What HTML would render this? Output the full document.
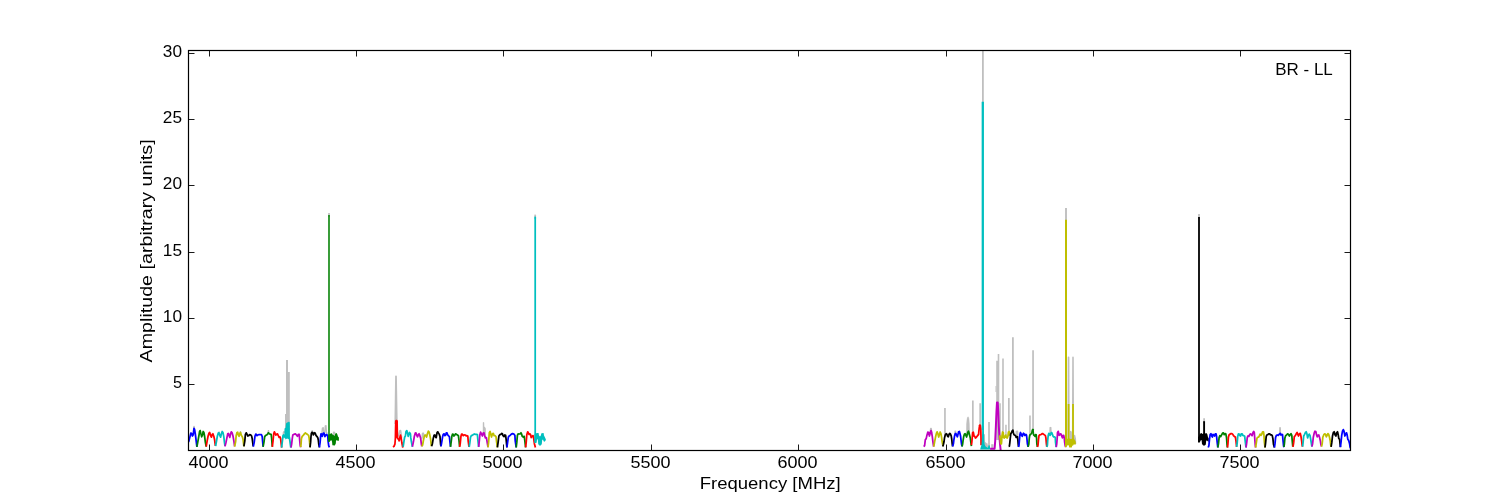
<!DOCTYPE html>
<html><head><meta charset="utf-8"><title>BR - LL</title>
<style>
html,body{margin:0;padding:0;background:#fff;}
body{width:1500px;height:500px;overflow:hidden;}
svg{display:block;}
text{font-family:"Liberation Sans",sans-serif;fill:#000;}
</style></head><body>
<svg width="1500" height="500" viewBox="0 0 1500 500">
<rect x="0" y="0" width="1500" height="500" fill="#ffffff"/>
<defs><clipPath id="ax"><rect x="188" y="50" width="1163" height="401"/></clipPath></defs>
<g clip-path="url(#ax)" fill="none" stroke-linejoin="round" stroke-linecap="butt">
<polygon fill="#bfbfbf" stroke="none" points="285.0,430.0 285.0,414.0 286.0,414.0 286.0,360.0 288.0,360.0 288.0,372.0 289.8,372.0 289.8,430.0"/>
<polygon fill="#bfbfbf" stroke="none" points="482.8,434.0 482.8,422.6 483.3,422.1 484.2,422.4 484.3,426.6 485.3,427.6 485.8,428.4 485.9,437.0 484.5,436.0"/>
<polygon fill="#bfbfbf" stroke="none" points="944.1,437.0 944.1,408.0 945.8,408.0 945.8,437.0"/>
<polygon fill="#bfbfbf" stroke="none" points="966.2,434.0 966.3,424.0 967.0,417.5 967.7,416.6 968.0,419.0 968.4,416.4 969.0,417.0 969.6,424.0 969.9,436.0"/>
<polygon fill="#bfbfbf" stroke="none" points="972.0,433.0 972.0,400.4 973.7,400.4 973.7,433.0"/>
<polygon fill="#bfbfbf" stroke="none" points="979.3,428.0 979.3,403.2 981.0,403.2 981.0,428.0"/>
<polygon fill="#bfbfbf" stroke="none" points="982.0,104.0 982.0,45.0 983.8,45.0 983.8,104.0"/>
<polygon fill="#bfbfbf" stroke="none" points="984.0,434.2 985.0,434.2 985.1,442.3 985.9,442.3 986.4,443.3 987.4,443.3 987.8,445.2 988.1,447.1 984.0,447.1"/>
<polygon fill="#bfbfbf" stroke="none" points="988.1,446.0 988.1,422.0 989.9,422.0 989.9,446.0"/>
<polygon fill="#bfbfbf" stroke="none" points="991.2,448.0 991.2,444.2 993.4,444.2 993.4,448.0"/>
<polygon fill="#bfbfbf" stroke="none" points="996.2,440.0 996.2,360.8 997.7,360.8 997.7,354.0 999.3,354.0 999.3,440.0"/>
<polygon fill="#bfbfbf" stroke="none" points="999.3,437.0 999.3,403.2 1000.8,403.2 1000.8,437.0"/>
<polygon fill="#bfbfbf" stroke="none" points="1002.2,436.0 1002.2,358.6 1003.8,358.6 1003.8,436.0"/>
<polygon fill="#bfbfbf" stroke="none" points="1005.2,438.0 1005.2,424.8 1006.7,424.8 1006.7,438.0"/>
<polygon fill="#bfbfbf" stroke="none" points="1008.0,436.0 1008.0,398.0 1009.7,398.0 1009.7,436.0"/>
<polygon fill="#bfbfbf" stroke="none" points="1012.0,432.0 1012.0,337.2 1013.8,337.2 1013.8,432.0"/>
<polygon fill="#bfbfbf" stroke="none" points="1029.2,436.0 1029.2,415.6 1030.8,415.6 1030.8,436.0"/>
<polygon fill="#bfbfbf" stroke="none" points="1032.2,431.0 1032.2,350.2 1033.9,350.2 1033.9,431.0"/>
<polyline stroke="#bfbfbf" stroke-width="1.3" points="193.5,429.6 193.9,426.5 194.2,426.5 194.6,429.6"/>
<polyline stroke="#bfbfbf" stroke-width="1.2" points="218.5,434.0 218.9,431.8 219.2,431.8 219.5,434.0"/>
<polyline stroke="#bfbfbf" stroke-width="1.2" points="240.0,433.3 240.3,431.5 240.6,431.5 240.9,433.3"/>
<polyline stroke="#bfbfbf" stroke-width="1.2" points="267.9,433.1 268.3,430.5 268.6,430.5 268.9,433.1"/>
<polyline stroke="#bfbfbf" stroke-width="1.0" points="255.6,434.6 256.0,433.3 256.3,433.3 256.6,434.6"/>
<polyline stroke="#bfbfbf" stroke-width="1.5" points="283.3,435.0 283.5,432.5 284.2,431.5 284.8,433.0"/>
<polyline stroke="#bfbfbf" stroke-width="1.5" points="311.1,434.7 311.8,431.2 312.4,430.9 313.0,434.1"/>
<polyline stroke="#bfbfbf" stroke-width="1.3" points="321.8,434.1 322.4,428.0 323.3,427.7 323.7,432.8 324.8,432.8 325.3,425.8 326.0,425.6 326.5,432.8 327.6,433.1"/>
<polyline stroke="#bfbfbf" stroke-width="1.7" points="329.0,217.0 329.0,213.0"/>
<polyline stroke="#bfbfbf" stroke-width="1.5" points="332.9,435.4 333.7,432.2 334.5,432.5 335.1,435.4"/>
<polyline stroke="#bfbfbf" stroke-width="1.6" points="395.2,424.0 395.9,376.2 396.1,376.2 396.9,424.0"/>
<polyline stroke="#bfbfbf" stroke-width="1.6" points="398.6,436.6 399.3,433.1 399.9,430.8 400.6,430.6 401.2,434.7 401.6,437.9"/>
<polyline stroke="#bfbfbf" stroke-width="1.6" points="422.0,438.6 422.5,433.8 423.0,433.1 423.4,433.6 423.8,436.6"/>
<polyline stroke="#bfbfbf" stroke-width="1.75" points="535.2,219.0 535.2,214.6"/>
<polyline stroke="#bfbfbf" stroke-width="1.5" points="930.2,432.8 930.7,428.6 931.2,428.6 931.7,432.8"/>
<polyline stroke="#bfbfbf" stroke-width="1.4" points="954.8,434.2 955.1,431.3 955.5,431.2 955.9,434.2"/>
<polyline stroke="#bfbfbf" stroke-width="0.8" points="995.9,392.0 995.9,386.0"/>
<polyline stroke="#bfbfbf" stroke-width="1.4" points="1016.1,435.6 1016.3,431.4 1017.5,431.2 1017.8,435.6"/>
<polyline stroke="#bfbfbf" stroke-width="1.3" points="1050.0,433.2 1050.1,427.7 1050.8,427.5 1051.1,433.2"/>
<polyline stroke="#bfbfbf" stroke-width="1.9" points="1066.0,222.0 1066.0,208.0"/>
<polyline stroke="#bfbfbf" stroke-width="1.6" points="1068.2,440.0 1068.5,357.4 1068.6,357.4 1068.9,440.0"/>
<polyline stroke="#bfbfbf" stroke-width="1.6" points="1072.7,440.0 1073.0,357.4 1073.0,357.4 1073.3,440.0"/>
<polyline stroke="#bfbfbf" stroke-width="1.3" points="1070.2,440.0 1070.6,431.5 1071.2,432.0 1071.5,440.0"/>
<polyline stroke="#bfbfbf" stroke-width="1.3" points="1074.2,440.0 1074.6,435.5 1075.4,439.0 1075.6,444.0"/>
<polyline stroke="#bfbfbf" stroke-width="1.7" points="1199.0,219.0 1199.0,214.0"/>
<polyline stroke="#bfbfbf" stroke-width="1.7" points="1204.1,423.0 1204.1,418.3"/>
<polyline stroke="#bfbfbf" stroke-width="1.6" points="1279.8,434.0 1280.0,427.7 1280.1,427.7 1280.4,434.0"/>
<polyline stroke="#0000ff" stroke-width="1.75" points="188.6,442.1 190.0,436.6 190.8,433.1 191.6,433.6 192.4,436.0 193.2,434.8 194.0,428.3 194.6,429.6 195.3,433.8 196.9,446.9"/>
<polyline stroke="#008000" stroke-width="1.75" points="196.9,446.9 197.8,441.8 198.8,436.3 199.6,431.5 200.2,430.6 200.8,433.4 201.7,436.8 202.5,434.7 203.2,431.5 203.9,432.5 204.7,437.0 205.3,441.8 206.2,446.6"/>
<polyline stroke="#ff0000" stroke-width="1.75" points="206.2,446.6 207.1,441.1 208.1,436.0 209.0,433.1 209.7,432.5 210.6,435.7 211.4,437.2 212.2,434.4 212.9,433.8 213.8,436.3 214.5,439.2 215.4,445.9"/>
<polyline stroke="#00bfbf" stroke-width="1.75" points="215.6,446.2 216.6,440.5 217.4,436.0 218.3,433.1 219.0,432.8 219.9,435.7 220.6,437.2 221.4,433.8 222.2,431.5 223.0,432.8 223.8,436.6 224.4,441.8 225.0,446.2"/>
<polyline stroke="#bf00bf" stroke-width="1.75" points="225.0,446.4 226.0,442.4 227.0,437.3 227.7,433.8 228.4,433.4 229.2,436.0 229.8,437.4 230.6,433.8 231.3,431.8 232.1,432.8 233.0,436.0 233.9,441.1 234.6,446.4"/>
<polyline stroke="#bfbf00" stroke-width="1.75" points="234.6,446.6 235.6,441.8 236.2,435.4 237.0,432.5 237.7,432.2 238.5,435.4 239.1,436.3 239.9,433.4 240.5,432.5 241.4,435.4 242.3,436.8 243.0,439.2 243.9,446.4"/>
<polyline stroke="#000000" stroke-width="1.75" points="243.9,446.4 244.8,441.1 245.4,434.4 246.3,432.8 247.1,434.4 247.8,436.0 248.7,435.7 249.7,434.6 250.6,434.8 251.6,436.0 252.2,438.6 253.2,446.4"/>
<polyline stroke="#0000ff" stroke-width="1.75" points="253.3,446.6 254.2,442.4 255.0,436.0 255.8,434.2 256.4,434.7 257.0,435.7 258.0,434.8 259.0,434.7 261.5,434.7 262.2,436.6 263.1,446.6"/>
<polyline stroke="#008000" stroke-width="1.75" points="263.1,446.8 264.0,441.8 264.7,436.6 265.7,435.4 266.6,435.0 267.6,434.1 268.4,432.8 269.2,433.8 270.2,434.2 271.1,434.4 271.6,437.9 272.3,446.8"/>
<polyline stroke="#ff0000" stroke-width="1.75" points="272.3,446.9 273.0,441.1 273.7,433.8 274.4,431.8 275.3,433.8 275.9,435.0 276.8,434.1 277.5,433.8 278.5,436.0 279.1,437.3 280.0,436.8 280.6,438.6 281.4,445.6 281.7,447.5"/>
<polyline stroke="#00bfbf" stroke-width="1.75" points="281.6,447.6 282.4,441.0 283.0,435.6 283.7,435.0 284.2,436.5"/>
<polygon fill="#00bfbf" stroke="none" points="283.2,437.5 283.6,435.0 284.4,434.5 284.5,428.6 285.6,427.8 286.0,423.4 287.0,422.6 288.0,422.2 289.0,421.4 289.8,422.4 290.0,439.2 288.4,439.0 287.0,438.6 285.6,439.6 284.8,437.6 284.0,438.6"/>
<polyline stroke="#00bfbf" stroke-width="1.75" points="289.3,437.0 289.9,441.0 290.8,447.6"/>
<polyline stroke="#bf00bf" stroke-width="1.75" points="291.0,447.5 291.6,444.3 292.2,439.2 292.8,435.0 293.8,434.4 295.4,433.8 296.4,435.0 297.4,436.3 298.3,434.4 299.3,434.4 299.6,439.2 300.2,445.6 300.7,447.2"/>
<polyline stroke="#bfbf00" stroke-width="1.75" points="300.7,447.2 301.1,443.7 301.4,438.6 302.2,436.4 303.2,435.4 304.4,433.9 305.4,432.9 306.4,433.8 307.6,434.6 308.6,435.4 309.1,437.8 309.5,441.1 310.0,447.2"/>
<polyline stroke="#000000" stroke-width="1.75" points="310.0,447.4 310.6,442.4 311.0,436.5 311.4,433.5 312.0,432.3 312.8,432.8 313.4,434.9 314.0,433.4 314.8,432.8 315.4,433.8 316.0,435.4 317.0,436.6 317.8,437.8 318.3,440.0 318.8,444.3 319.4,447.4"/>
<polyline stroke="#0000ff" stroke-width="1.75" points="319.4,447.4 320.1,442.4 320.6,436.6 321.0,433.8 322.0,434.4 322.3,436.3 323.3,433.1 324.2,433.4 324.9,436.6 325.8,435.0 326.8,434.4 327.8,436.6 328.1,441.1 328.7,445.6 329.4,447.4"/>
<polyline stroke="#008000" stroke-width="1.55" points="329.0,442.0 329.0,215.0"/>
<polygon fill="#008000" stroke="none" points="328.2,434.8 330.0,434.0 331.4,433.0 332.4,434.6 333.6,435.0 334.4,436.0 335.4,433.6 336.6,433.0 337.4,434.4 338.0,436.6 338.9,437.4 338.9,440.8 337.4,440.8 337.0,440.0 336.0,440.8 335.8,443.6 334.8,445.6 332.4,445.2 332.0,441.6 331.2,440.0 330.0,441.2 328.2,441.6"/>
<polyline stroke="#ff0000" stroke-width="1.75" points="393.0,447.0 394.0,446.3 394.9,444.2 395.4,438.0 395.6,428.0 395.8,421.4 396.1,420.6 396.8,420.6 397.1,421.4 397.2,428.0 397.4,436.0 397.7,438.6 398.5,439.2 399.2,440.8 399.9,437.2 400.5,435.2 401.1,437.6 401.8,442.5 402.8,447.6"/>
<polygon fill="#ff0000" stroke="none" points="395.3,438.0 395.5,428.0 395.7,421.0 396.1,420.3 396.9,420.3 397.2,421.2 397.4,437.0 396.5,438.2"/>
<polyline stroke="#00bfbf" stroke-width="1.75" points="403.1,446.9 403.8,442.4 404.6,437.3 405.4,436.0 406.0,431.5 406.8,430.6 407.4,432.8 408.2,436.3 408.9,434.1 409.5,432.5 410.4,433.8 410.8,437.9 411.4,441.8 412.4,446.9"/>
<polyline stroke="#bf00bf" stroke-width="1.75" points="412.4,446.6 413.4,441.8 414.3,436.6 415.3,433.1 415.9,432.8 416.8,435.4 417.5,436.8 418.5,434.4 419.1,433.8 419.8,435.4 420.7,438.6 421.4,444.3 421.8,446.4"/>
<polyline stroke="#bfbf00" stroke-width="1.75" points="421.8,446.4 422.6,445.0 423.4,440.5 424.2,436.6 425.1,435.0 425.8,435.4 426.6,437.0 427.4,433.8 428.3,431.2 429.0,431.8 429.8,435.0 430.6,439.2 431.3,445.6 431.6,446.2"/>
<polyline stroke="#000000" stroke-width="1.75" points="431.6,446.2 432.4,443.7 433.2,438.6 434.0,435.4 434.8,435.0 435.6,437.3 436.2,437.6 437.0,432.8 437.7,431.8 438.5,433.1 439.3,434.4 440.0,436.6 440.6,444.3 441.0,446.2"/>
<polyline stroke="#0000ff" stroke-width="1.75" points="441.0,446.4 441.7,442.4 442.5,437.3 443.2,434.4 444.1,433.8 444.9,435.7 445.7,435.0 446.3,432.8 447.0,432.8 447.6,434.7 448.6,435.9 449.4,436.6 450.0,442.4 450.5,446.6"/>
<polyline stroke="#008000" stroke-width="1.75" points="450.5,446.8 451.1,442.4 451.8,436.6 452.4,434.4 453.0,434.1 454.0,436.0 454.6,435.4 455.6,433.8 456.6,434.4 457.5,435.0 458.4,435.7 459.0,440.5 459.6,446.6"/>
<polyline stroke="#ff0000" stroke-width="1.75" points="459.6,446.8 460.3,443.0 460.9,436.6 461.6,434.1 462.3,434.2 463.3,435.7 464.2,434.8 465.2,435.0 466.2,435.9 467.1,435.7 467.8,436.0 468.2,441.1 469.0,446.8"/>
<polyline stroke="#00bfbf" stroke-width="1.75" points="469.2,447.0 469.9,442.4 470.5,437.3 471.3,435.7 472.2,435.4 473.2,434.6 474.5,434.0 475.4,434.4 476.4,434.4 477.4,434.7 477.8,439.2 478.6,446.9"/>
<polyline stroke="#bf00bf" stroke-width="1.75" points="478.7,446.9 479.2,441.8 479.9,434.7 480.6,432.2 481.4,433.8 482.4,436.0 483.2,433.1 484.0,432.8 484.6,435.4 485.4,437.9 486.4,437.6 487.0,441.1 488.0,447.2"/>
<polyline stroke="#bfbf00" stroke-width="1.75" points="488.0,447.4 488.6,442.4 489.3,432.8 490.1,431.5 490.9,434.7 491.5,437.0 492.5,433.8 493.3,433.4 494.1,435.7 495.0,435.7 496.0,436.6 496.6,441.8 497.4,447.4"/>
<polyline stroke="#000000" stroke-width="1.75" points="497.4,447.4 498.1,442.4 498.9,436.0 499.8,434.7 500.8,434.4 501.8,433.4 502.4,433.8 503.0,435.7 504.0,436.6 504.8,435.0 505.6,435.4 506.1,439.2 506.9,447.4"/>
<polyline stroke="#0000ff" stroke-width="1.75" points="506.9,447.4 507.6,442.4 508.3,437.3 509.1,436.0 510.1,435.4 511.4,434.1 512.6,433.6 513.9,434.0 514.9,435.4 515.2,440.5 516.2,447.4"/>
<polyline stroke="#008000" stroke-width="1.75" points="516.2,447.5 516.8,442.4 517.4,435.4 518.1,433.8 519.0,434.0 520.0,433.8 521.0,432.8 521.6,434.1 522.2,436.3 523.2,437.0 524.2,436.3 524.8,440.5 525.6,447.4"/>
<polyline stroke="#ff0000" stroke-width="1.75" points="525.6,447.4 526.2,442.4 526.8,434.7 527.7,431.8 528.3,432.8 529.0,434.4 529.9,433.8 530.6,434.7 531.2,437.6 532.2,436.0 533.1,435.7 533.8,439.2 534.4,443.7 535.4,447.5"/>
<polyline stroke="#00bfbf" stroke-width="1.75" points="535.2,443.0 535.2,216.6"/>
<polygon fill="#00bfbf" stroke="none" points="534.6,434.0 536.2,433.2 537.2,433.0 538.6,433.0 539.0,435.6 540.0,436.6 540.8,435.6 541.4,433.2 543.6,433.0 544.0,435.6 545.0,437.6 545.8,439.2 545.9,439.6 545.6,440.6 544.6,441.8 543.6,441.2 543.0,439.6 542.2,440.0 541.8,444.0 540.8,445.6 539.2,445.4 538.2,444.0 537.8,439.2 537.0,439.6 536.6,442.8 534.6,442.8"/>
<polyline stroke="#bf00bf" stroke-width="1.75" points="923.7,446.6 924.6,445.6 925.3,439.8 926.2,438.6 926.9,435.4 927.8,432.2 928.8,432.5 929.4,436.0 930.4,432.5 931.0,430.6 931.7,432.8 932.3,436.6 933.0,442.4 933.6,446.6"/>
<polyline stroke="#bfbf00" stroke-width="1.75" points="933.8,446.6 934.6,441.8 935.5,437.3 936.4,433.4 937.1,431.8 937.9,433.8 938.7,437.0 939.4,434.7 940.2,432.0 941.0,433.8 941.6,437.3 942.2,441.8 943.0,446.2"/>
<polyline stroke="#000000" stroke-width="1.75" points="942.8,446.5 943.4,444.5 944.0,441.8 944.5,438.0 945.2,435.1 946.2,433.7 946.9,434.2 947.6,436.3 948.3,436.8 949.0,434.4 949.8,433.4 950.5,434.2 951.2,435.8 951.7,439.0 952.2,443.8 952.6,446.4"/>
<polyline stroke="#0000ff" stroke-width="1.75" points="952.6,446.5 953.4,443.8 953.8,440.4 954.5,436.3 955.1,433.9 955.8,433.4 956.5,435.1 957.4,436.8 958.0,434.4 958.6,431.8 959.4,431.5 959.9,433.2 960.6,436.3 961.0,439.9 961.5,443.8 962.0,446.4"/>
<polyline stroke="#008000" stroke-width="1.75" points="962.0,446.5 962.6,444.2 963.1,440.4 963.7,436.6 964.4,434.2 965.1,433.7 965.8,435.1 966.6,437.0 967.1,435.1 967.8,432.2 968.5,431.3 969.0,432.7 969.7,435.6 970.3,438.0 970.8,441.8 971.4,446.2"/>
<polyline stroke="#ff0000" stroke-width="1.75" points="971.4,445.2 971.8,442.3 972.2,438.0 972.6,432.7 973.3,432.2 973.7,434.2 974.0,436.1 974.7,436.3 975.4,438.0 976.2,437.5 977.1,436.3 977.8,435.4 978.6,434.4 978.9,430.8 979.3,427.4 979.6,426.0"/>
<polyline stroke="#ff0000" stroke-width="1.75" points="979.2,426.0 979.5,425.4 980.0,425.1 980.4,425.6 980.8,428.9 981.0,438.0 981.1,445.2"/>
<polygon fill="#00bfbf" stroke="none" points="980.2,449.5 980.5,448.1 981.4,445.2 981.8,440.4 982.1,433.2 982.2,426.0 983.9,426.0 984.0,433.2 984.2,440.4 984.6,444.2 985.4,446.2 986.4,447.1 987.8,447.6 988.6,445.3 989.5,445.2 990.0,446.6 990.2,449.5"/>
<polyline stroke="#00bfbf" stroke-width="2.3" points="982.8,430.0 982.8,101.7"/>
<polyline stroke="#bf00bf" stroke-width="2.0" points="990.1,448.7 994.6,448.7 995.2,441.0 995.9,426.0 996.5,411.0 997.0,402.4 997.7,402.4 998.3,412.0 998.8,426.0 999.4,436.0 1000.0,444.0 1000.7,450.5"/>
<polyline stroke="#bfbf00" stroke-width="1.75" points="999.3,435.6 999.8,435.8 1000.1,438.5 1000.5,440.4 1000.7,443.8 1001.4,443.8 1001.7,440.4 1002.0,435.6 1002.6,432.0 1003.3,432.7 1003.5,437.5 1004.3,438.0 1005.0,436.3 1005.8,435.1 1006.2,437.3 1007.2,438.0 1007.9,436.3 1008.4,432.2 1009.1,431.5 1009.6,432.7 1009.8,435.6"/>
<polyline stroke="#000000" stroke-width="1.75" points="1008.6,446.4 1009.4,446.2 1009.8,442.8 1010.3,438.0 1010.8,433.7 1011.5,432.7 1012.2,430.8 1012.9,430.1 1013.4,432.7 1013.9,434.6 1014.9,435.4 1015.6,435.6 1016.1,437.3 1016.8,437.5 1017.5,436.6 1017.9,440.4 1018.2,444.2 1018.5,446.6"/>
<polyline stroke="#0000ff" stroke-width="1.75" points="1018.5,446.9 1019.0,445.2 1019.4,440.4 1019.9,434.6 1020.5,432.5 1021.1,433.9 1021.7,435.6 1022.3,436.3 1022.9,434.2 1023.5,433.2 1024.1,433.9 1024.7,435.4 1025.3,435.1 1025.9,434.4 1026.5,435.1 1026.9,438.5 1027.4,443.8 1028.1,446.9"/>
<polyline stroke="#008000" stroke-width="1.75" points="1028.1,446.9 1028.8,444.2 1029.3,438.0 1029.8,435.1 1030.5,434.4 1031.2,433.9 1031.8,433.2 1032.3,430.3 1032.9,429.4 1033.5,430.3"/>
<polyline stroke="#008000" stroke-width="1.75" points="1032.9,429.6 1033.3,433.2 1033.7,435.1 1034.4,435.6 1035.1,436.3 1035.6,434.6 1036.2,434.9 1036.6,438.5 1036.9,444.2 1037.4,446.9"/>
<polyline stroke="#ff0000" stroke-width="1.75" points="1037.4,447.0 1038.0,445.2 1038.5,439.4 1039.0,435.6 1039.7,434.9 1040.9,434.6 1041.8,433.9 1042.6,433.6 1043.5,434.2 1044.5,434.9 1045.4,435.6 1045.9,438.0 1046.3,442.8 1046.8,447.0"/>
<polyline stroke="#00bfbf" stroke-width="1.75" points="1046.8,447.1 1047.4,445.2 1047.7,440.4 1048.2,435.6 1048.8,433.4 1049.5,433.7 1050.1,435.4 1050.7,434.2 1051.2,432.7 1051.8,432.7 1052.4,434.4 1053.1,436.3 1053.8,437.0 1054.6,436.8 1055.3,437.5 1055.5,441.8 1055.9,445.2 1056.2,447.1"/>
<polyline stroke="#bf00bf" stroke-width="1.75" points="1056.2,447.1 1056.7,444.2 1057.2,438.0 1057.5,432.7 1058.2,431.3 1058.6,432.7 1059.1,435.4 1059.8,434.9 1060.6,433.9 1061.2,434.2 1061.8,436.3 1062.5,437.8 1063.1,435.6 1063.7,435.4 1064.3,438.0 1064.6,441.8 1065.1,445.2 1065.6,447.1"/>
<polyline stroke="#bfbf00" stroke-width="2.0" points="1066.0,444.0 1066.0,219.8"/>
<polyline stroke="#bfbf00" stroke-width="1.8" points="1068.6,444.0 1068.6,404.0"/>
<polyline stroke="#bfbf00" stroke-width="1.8" points="1073.0,444.0 1073.0,404.0"/>
<polygon fill="#bfbf00" stroke="none" points="1065.0,439.2 1067.4,438.8 1069.8,438.6 1070.2,439.0 1071.4,439.0 1072.0,438.6 1074.0,438.6 1074.6,439.8 1075.4,440.8 1075.8,442.0 1075.8,444.4 1073.6,444.4 1073.2,445.4 1072.2,445.8 1071.8,447.6 1069.2,447.6 1068.8,445.2 1067.0,445.4 1066.6,447.2 1065.0,447.2"/>
<polyline stroke="#000000" stroke-width="1.8" points="1199.0,442.0 1199.0,217.0"/>
<polyline stroke="#000000" stroke-width="1.9" points="1204.1,442.0 1204.1,421.2"/>
<polygon fill="#000000" stroke="none" points="1198.0,437.2 1199.0,436.0 1200.0,433.8 1201.6,433.0 1202.4,434.0 1203.2,433.6 1205.0,433.6 1205.8,433.2 1206.8,433.2 1207.4,434.4 1208.0,437.2 1208.8,438.4 1208.8,441.8 1208.0,441.6 1207.0,440.4 1206.2,440.8 1205.8,444.4 1204.8,445.6 1203.2,445.4 1202.0,444.0 1201.6,440.0 1200.6,440.4 1199.8,442.6 1198.0,442.6"/>
<polyline stroke="#0000ff" stroke-width="1.75" points="1208.2,447.5 1208.9,445.6 1209.5,439.2 1210.2,434.4 1211.0,433.8 1211.8,436.0 1212.4,437.0 1213.0,434.4 1213.8,435.0 1214.6,436.0 1215.3,433.8 1216.1,433.8 1216.6,436.6 1217.2,442.4 1217.8,447.5"/>
<polyline stroke="#008000" stroke-width="1.75" points="1217.8,447.5 1218.5,443.7 1219.1,437.6 1219.8,435.7 1220.7,436.6 1221.7,434.7 1222.6,433.1 1223.4,432.8 1224.2,434.7 1225.1,433.6 1225.8,433.8 1226.5,437.3 1227.0,444.3 1227.4,447.5"/>
<polyline stroke="#ff0000" stroke-width="1.75" points="1227.4,447.5 1227.9,444.3 1228.4,437.3 1229.0,435.0 1230.0,434.1 1231.0,433.6 1231.9,433.6 1232.8,434.4 1233.5,435.7 1234.5,436.6 1235.4,437.0 1236.0,441.1 1236.6,446.9"/>
<polyline stroke="#00bfbf" stroke-width="1.75" points="1236.6,446.9 1237.2,443.0 1237.7,436.6 1238.3,434.1 1239.0,433.8 1239.9,435.7 1240.6,436.0 1241.2,433.8 1242.2,433.8 1242.8,435.4 1243.8,435.7 1244.7,436.3 1245.2,441.1 1246.0,447.5"/>
<polyline stroke="#bf00bf" stroke-width="1.75" points="1246.0,447.5 1246.6,443.7 1247.3,437.3 1247.9,436.0 1248.9,436.3 1249.8,434.4 1250.5,433.8 1251.4,434.7 1252.1,435.7 1253.0,432.5 1253.7,431.5 1254.3,432.5 1254.8,439.2 1255.3,445.6 1255.6,447.5"/>
<polyline stroke="#bfbf00" stroke-width="1.75" points="1255.6,447.5 1256.2,443.7 1256.9,438.6 1257.5,437.3 1258.5,437.2 1259.4,435.7 1260.1,434.1 1260.9,435.4 1261.7,434.4 1262.6,431.8 1263.5,431.8 1263.9,434.7 1264.4,442.4 1265.0,447.5"/>
<polyline stroke="#000000" stroke-width="1.75" points="1265.0,447.5 1265.5,443.7 1266.2,436.6 1266.8,435.0 1267.8,434.7 1268.7,433.8 1269.7,433.8 1270.3,434.8 1271.3,434.8 1272.2,435.4 1272.9,438.6 1273.5,444.3 1274.4,447.5"/>
<polyline stroke="#0000ff" stroke-width="1.75" points="1274.4,447.5 1275.0,443.7 1275.6,437.3 1276.4,435.4 1277.4,435.0 1278.3,435.4 1279.3,434.1 1280.2,433.4 1280.9,435.0 1281.6,434.4 1282.5,434.7 1282.9,439.2 1283.6,446.2 1284.0,447.2"/>
<polyline stroke="#008000" stroke-width="1.75" points="1284.0,447.0 1284.4,443.7 1284.9,437.9 1285.6,435.7 1286.6,435.0 1287.6,433.8 1288.4,434.4 1289.4,436.0 1290.3,434.4 1291.1,433.8 1291.8,435.4 1292.2,440.5 1292.8,446.6"/>
<polyline stroke="#ff0000" stroke-width="1.75" points="1293.0,446.8 1293.7,442.4 1294.3,436.6 1295.3,435.7 1296.2,433.8 1297.1,432.5 1297.7,434.1 1298.5,436.0 1299.4,433.8 1300.3,433.4 1300.9,436.0 1301.6,440.5 1302.2,445.6 1302.6,446.6"/>
<polyline stroke="#00bfbf" stroke-width="1.75" points="1302.6,446.6 1303.1,442.4 1303.7,436.0 1304.6,434.4 1305.4,432.5 1306.2,431.8 1306.9,433.8 1307.6,437.9 1308.4,435.4 1309.2,434.1 1310.0,435.4 1310.6,438.6 1311.3,443.0 1311.9,446.6"/>
<polyline stroke="#bf00bf" stroke-width="1.75" points="1311.9,446.6 1312.6,443.7 1313.3,437.3 1314.2,433.1 1315.0,431.2 1315.8,431.5 1316.4,434.4 1317.2,436.8 1318.0,435.4 1318.8,435.0 1319.6,437.6 1320.4,441.1 1321.0,445.0 1321.5,446.6"/>
<polyline stroke="#bfbf00" stroke-width="1.75" points="1321.5,446.6 1322.2,443.7 1322.8,437.3 1323.8,434.7 1324.7,433.8 1325.5,434.4 1326.3,436.8 1327.2,435.0 1327.9,433.6 1328.7,434.4 1329.5,437.3 1330.2,440.5 1330.8,445.6 1331.1,446.9"/>
<polyline stroke="#000000" stroke-width="1.75" points="1331.1,446.9 1331.8,442.4 1332.5,436.0 1333.4,432.5 1334.2,431.8 1335.0,434.7 1335.9,436.0 1336.8,432.5 1337.5,431.8 1338.2,434.7 1338.8,438.6 1339.6,439.2 1340.1,444.3 1340.4,447.2"/>
<polyline stroke="#0000ff" stroke-width="1.75" points="1340.4,447.2 1341.0,442.4 1341.7,435.4 1342.5,431.2 1343.3,429.6 1344.0,431.2 1344.9,436.0 1345.7,434.1 1346.5,432.8 1347.1,434.7 1347.8,439.2 1348.7,440.5 1349.6,443.7 1350.0,446.6 1350.4,448.2"/>
</g>
<rect x="188.5" y="50.5" width="1162" height="400" fill="none" stroke="#000" stroke-width="1.2"/>
<g stroke="#1a1a1a" stroke-width="1">
<line x1="209.5" y1="450" x2="209.5" y2="444.5"/><line x1="209.5" y1="51" x2="209.5" y2="56.5"/>
<line x1="356.5" y1="450" x2="356.5" y2="444.5"/><line x1="356.5" y1="51" x2="356.5" y2="56.5"/>
<line x1="503.5" y1="450" x2="503.5" y2="444.5"/><line x1="503.5" y1="51" x2="503.5" y2="56.5"/>
<line x1="651.5" y1="450" x2="651.5" y2="444.5"/><line x1="651.5" y1="51" x2="651.5" y2="56.5"/>
<line x1="798.5" y1="450" x2="798.5" y2="444.5"/><line x1="798.5" y1="51" x2="798.5" y2="56.5"/>
<line x1="946.5" y1="450" x2="946.5" y2="444.5"/><line x1="946.5" y1="51" x2="946.5" y2="56.5"/>
<line x1="1093.5" y1="450" x2="1093.5" y2="444.5"/><line x1="1093.5" y1="51" x2="1093.5" y2="56.5"/>
<line x1="1240.5" y1="450" x2="1240.5" y2="444.5"/><line x1="1240.5" y1="51" x2="1240.5" y2="56.5"/>
<line x1="189" y1="384.5" x2="194.5" y2="384.5"/><line x1="1350" y1="384.5" x2="1344.5" y2="384.5"/>
<line x1="189" y1="318.5" x2="194.5" y2="318.5"/><line x1="1350" y1="318.5" x2="1344.5" y2="318.5"/>
<line x1="189" y1="252.5" x2="194.5" y2="252.5"/><line x1="1350" y1="252.5" x2="1344.5" y2="252.5"/>
<line x1="189" y1="185.5" x2="194.5" y2="185.5"/><line x1="1350" y1="185.5" x2="1344.5" y2="185.5"/>
<line x1="189" y1="119.5" x2="194.5" y2="119.5"/><line x1="1350" y1="119.5" x2="1344.5" y2="119.5"/>
<line x1="189" y1="53.5" x2="194.5" y2="53.5"/><line x1="1350" y1="53.5" x2="1344.5" y2="53.5"/>
</g>
<g font-size="17" opacity="0.999">
<text x="208.5" y="468" text-anchor="middle" textLength="40" lengthAdjust="spacingAndGlyphs">4000</text>
<text x="355.5" y="468" text-anchor="middle" textLength="40" lengthAdjust="spacingAndGlyphs">4500</text>
<text x="502.5" y="468" text-anchor="middle" textLength="40" lengthAdjust="spacingAndGlyphs">5000</text>
<text x="650.5" y="468" text-anchor="middle" textLength="40" lengthAdjust="spacingAndGlyphs">5500</text>
<text x="797.5" y="468" text-anchor="middle" textLength="40" lengthAdjust="spacingAndGlyphs">6000</text>
<text x="945.5" y="468" text-anchor="middle" textLength="40" lengthAdjust="spacingAndGlyphs">6500</text>
<text x="1092.5" y="468" text-anchor="middle" textLength="40" lengthAdjust="spacingAndGlyphs">7000</text>
<text x="1239.5" y="468" text-anchor="middle" textLength="40" lengthAdjust="spacingAndGlyphs">7500</text>
<text x="182" y="388.1" text-anchor="end" textLength="9.0" lengthAdjust="spacingAndGlyphs">5</text>
<text x="182" y="322.1" text-anchor="end" textLength="19.2" lengthAdjust="spacingAndGlyphs">10</text>
<text x="182" y="256.1" text-anchor="end" textLength="19.2" lengthAdjust="spacingAndGlyphs">15</text>
<text x="182" y="189.1" text-anchor="end" textLength="19.2" lengthAdjust="spacingAndGlyphs">20</text>
<text x="182" y="123.1" text-anchor="end" textLength="19.2" lengthAdjust="spacingAndGlyphs">25</text>
<text x="182" y="57.1" text-anchor="end" textLength="19.2" lengthAdjust="spacingAndGlyphs">30</text>
<text x="770.2" y="488.6" text-anchor="middle" textLength="141" lengthAdjust="spacingAndGlyphs">Frequency [MHz]</text>
<text transform="translate(151.9,250.9) rotate(-90)" x="0" y="0" text-anchor="middle" textLength="223" lengthAdjust="spacingAndGlyphs">Amplitude [arbitrary units]</text>
<text x="1304" y="75.2" text-anchor="middle" textLength="57.5" lengthAdjust="spacingAndGlyphs">BR - LL</text>
</g>
</svg>
</body></html>
